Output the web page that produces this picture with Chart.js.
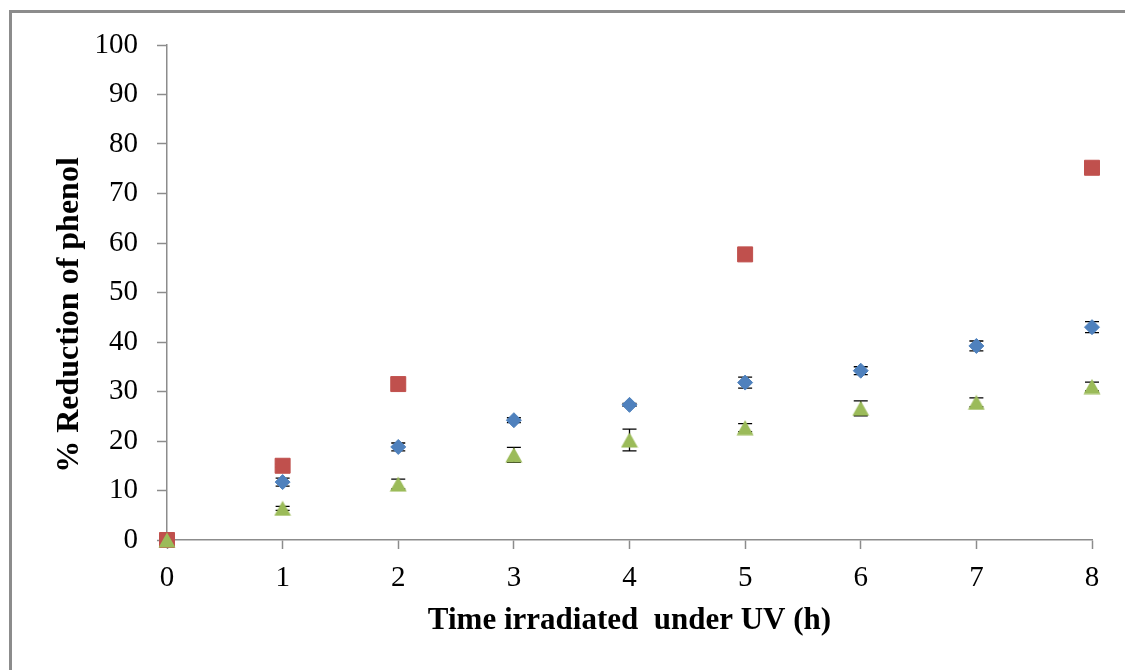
<!DOCTYPE html>
<html lang="en">
  <head>
    <meta charset="UTF-8" />
    <title>Phenol reduction under UV</title>
    <script src="https://cdn.jsdelivr.net/npm/chart.js"></script>
    <style>
      body { margin: 0; background: #fff; }
      #wrap { position: relative; width: 1125px; height: 670px; overflow: hidden; }
      #frame {
        position: absolute; left: 9px; top: 10px;
        width: 1200px; height: 700px;
        border: 3px solid #8c8c8c;
      }
      #chart { position: absolute; left: 0; top: 0; }
    </style>
  </head>
  <body>
    <div id="wrap">
      <div id="frame"></div>
      <canvas id="chart" width="1125" height="670"></canvas>
    </div>
    <script>
      // hours under UV
      const hours = [0, 1, 2, 3, 4, 5, 6, 7, 8];

      // blue diamonds
      const blueVals = [0, 11.7, 18.8, 24.2, 27.3, 31.8, 34.2, 39.2, 43.0];
      const blueErr = [0, 0.8, 0.8, 0.5, 0.3, 1.1, 0.8, 1.0, 1.1];

      // red squares (only some hours measured)
      const redHours = [0, 1, 2, 5, 8];
      const redVals = [0, 15.0, 31.5, 57.7, 75.2];
      const redErr = [0, 0.3, 1.0, 1.2, 1.1];

      // green triangles
      const greenVals = [0, 6.4, 11.3, 17.2, 20.2, 22.7, 26.6, 27.8, 31.0];
      const greenErr = [0, 0.4, 1.0, 1.5, 2.2, 0.8, 1.5, 0.9, 0.9];

      const yTicks = [0, 10, 20, 30, 40, 50, 60, 70, 80, 90, 100];
      const xTitle = "Time irradiated  under UV (h)";
      const yTitle = "% Reduction of phenol";

      const toPoints = (xs, ys) => xs.map((x, i) => ({ x: x, y: ys[i] }));

      // Excel style triangle, centred on its bounding box
      const tri = document.createElement("canvas");
      tri.width = 18;
      tri.height = 16;
      const tctx = tri.getContext("2d");
      tctx.fillStyle = "#9BBB59";
      tctx.beginPath();
      tctx.moveTo(9, 0.5);
      tctx.lineTo(17.5, 15.5);
      tctx.lineTo(0.5, 15.5);
      tctx.closePath();
      tctx.fill();

      const errorBars = {
        id: "errorBars",
        beforeDatasetsDraw(chart) {
          const ctx = chart.ctx;
          const yScale = chart.scales.y;
          ctx.save();
          ctx.strokeStyle = "#000";
          ctx.lineWidth = 1.3;
          chart.data.datasets.forEach((ds, di) => {
            const meta = chart.getDatasetMeta(di);
            meta.data.forEach((pt, i) => {
              const e = ds.errors[i];
              if (!e) return;
              const v = ds.data[i].y;
              const top = yScale.getPixelForValue(v + e);
              const bot = yScale.getPixelForValue(v - e);
              ctx.beginPath();
              ctx.moveTo(pt.x, top);
              ctx.lineTo(pt.x, bot);
              ctx.moveTo(pt.x - 7, top);
              ctx.lineTo(pt.x + 7, top);
              ctx.moveTo(pt.x - 7, bot);
              ctx.lineTo(pt.x + 7, bot);
              ctx.stroke();
            });
          });
          ctx.restore();
        },
      };

      // y title drawn by hand so it sits where the original has it
      const yTitlePlugin = {
        id: "yTitle",
        afterDraw(chart) {
          const ctx = chart.ctx;
          ctx.save();
          ctx.translate(70, 315);
          ctx.rotate(-Math.PI / 2);
          ctx.font = "bold 32px 'Liberation Serif'";
          ctx.fillStyle = "#000";
          ctx.textAlign = "center";
          ctx.textBaseline = "middle";
          ctx.fillText(yTitle, 0, 0);
          ctx.restore();
        },
      };

      const tickFont = { family: "'Liberation Serif'", size: 29 };

      new Chart(document.getElementById("chart"), {
        type: "scatter",
        data: {
          datasets: [
            {
              label: "blue",
              data: toPoints(hours, blueVals),
              errors: blueErr,
              pointStyle: "rectRot",
              pointRadius: 7.5,
              pointHoverRadius: 7.5,
              backgroundColor: "#4F81BD",
              borderColor: "#4F81BD",
              borderWidth: 1,
              clip: false,
              order: 3,
            },
            {
              label: "red",
              data: toPoints(redHours, redVals),
              errors: redErr,
              pointStyle: "rect",
              pointRadius: 10.6,
              pointHoverRadius: 10.6,
              backgroundColor: "#C0504D",
              borderColor: "#C0504D",
              borderWidth: 1,
              clip: false,
              order: 2,
            },
            {
              label: "green",
              data: toPoints(hours, greenVals),
              errors: greenErr,
              pointStyle: tri,
              pointRadius: 9,
              backgroundColor: "#9BBB59",
              borderColor: "#9BBB59",
              clip: false,
              order: 1,
            },
          ],
        },
        options: {
          responsive: false,
          animation: false,
          events: [],
          layout: { padding: { top: 45, right: 33, left: 0, bottom: 0 } },
          plugins: { legend: { display: false }, tooltip: { enabled: false } },
          scales: {
            x: {
              type: "linear",
              min: 0,
              max: 8,
              afterFit: (s) => { s.height = 130; },
              ticks: { stepSize: 1, color: "#000", font: tickFont, padding: 12, maxRotation: 0 },
              grid: { drawOnChartArea: false, tickLength: 9, tickColor: "#8c8c8c", tickWidth: 1.5 },
              border: { color: "#8c8c8c", width: 1.5 },
              title: {
                display: true,
                text: xTitle,
                color: "#000",
                font: { family: "'Liberation Serif'", size: 31, weight: "bold", lineHeight: 1.2 },
                padding: { top: 0, bottom: 30 },
              },
            },
            y: {
              min: 0,
              max: 100,
              afterFit: (s) => { s.width = 167; },
              afterBuildTicks: (s) => { s.ticks = yTicks.map((v) => ({ value: v })); },
              ticks: { color: "#000", font: tickFont, padding: 19 },
              grid: { drawOnChartArea: false, tickLength: 10, tickColor: "#8c8c8c", tickWidth: 1.5 },
              border: { color: "#8c8c8c", width: 1.5 },
            },
          },
        },
        plugins: [errorBars, yTitlePlugin],
      });
    </script>
  </body>
</html>
